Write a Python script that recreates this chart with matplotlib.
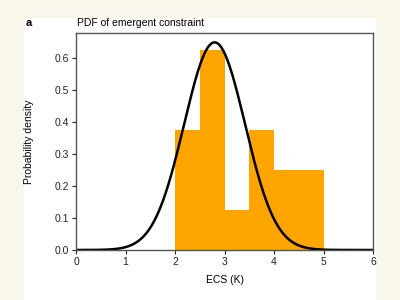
import numpy as np
import matplotlib
matplotlib.use("Agg")
import matplotlib.pyplot as plt
from matplotlib.patches import Rectangle

plt.rcParams['font.family'] = ['Liberation Sans', 'DejaVu Sans']

bin_edges = [2.0, 2.5, 3.0, 3.5, 4.0, 4.5, 5.0]
densities = [0.375, 0.625, 0.125, 0.375, 0.25, 0.25]
pdf_mean = 2.8
pdf_sd = 0.615
xticks = [0, 1, 2, 3, 4, 5, 6]
yticks = [0.0, 0.1, 0.2, 0.3, 0.4, 0.5, 0.6]

fig = plt.figure(figsize=(4, 3), dpi=100)
fig.patch.set_facecolor('#f9f6ec')
fig.patches.append(Rectangle((24/400, 0), (376-24)/400, (300-18)/300,
                             transform=fig.transFigure, facecolor='white',
                             edgecolor='none', zorder=-10))
ax = fig.add_axes([76/400, 1-250/300, (373-76)/400, (250-33)/300])
ax.set_zorder(5)
ax.set_facecolor('white')

widths = np.diff(bin_edges)
ax.bar(bin_edges[:-1], densities, width=widths, align='edge', color='#FFA500',
       edgecolor='none', zorder=1)
x = np.linspace(0, 6, 600)
y = np.exp(-0.5*((x-pdf_mean)/pdf_sd)**2)/(pdf_sd*np.sqrt(2*np.pi))
ax.plot(x, y, color='black', lw=1.8, zorder=2)

ax.set_xlim(0, 6)
ax.set_ylim(0, 0.678)
ax.set_xticks(xticks)
ax.set_yticks(yticks)
ax.set_yticklabels([f"{v:.1f}" for v in yticks])
ax.tick_params(labelsize=7.5, length=3, width=0.8, colors='#222222', pad=2)
for s in ax.spines.values():
    s.set_color('#555555')
    s.set_linewidth(1.0)
ax.set_xlabel('ECS (K)', fontsize=7.5, labelpad=6)
ax.set_ylabel('Probability density', fontsize=7.5, labelpad=15)
fig.text(77/400, 1-23/300, 'PDF of emergent constraint', fontsize=7.5, va='center', ha='left')
fig.text(26/400, 1-23/300, 'a', fontsize=8, fontweight='bold', va='center', ha='left')

fig.savefig('out.png', dpi=100, facecolor=fig.get_facecolor())
